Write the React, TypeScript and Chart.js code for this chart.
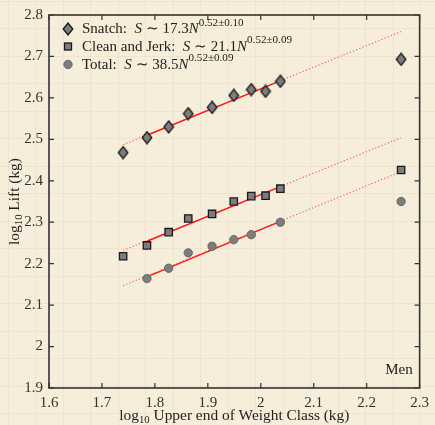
import React, { useEffect, useRef } from "react";
import { Chart, registerables } from "chart.js";

Chart.register(...registerables);

// ---- data ----
const weightClassLog = [1.74, 1.785, 1.826, 1.863, 1.908, 1.949, 1.982, 2.009, 2.037, 2.265];
const snatchLog = [2.468, 2.504, 2.53, 2.562, 2.577, 2.606, 2.62, 2.616, 2.64, 2.693];
const cleanJerkLog = [2.218, 2.244, 2.276, 2.309, 2.32, 2.35, 2.363, 2.364, 2.381, 2.426];
const totalLog = [null, 2.164, 2.189, 2.226, 2.242, 2.258, 2.27, null, 2.3, 2.35];

const fitXFull = [1.74, 2.265];
const fitXSolid = [1.785, 2.037];
const snatchFitFull = [2.487, 2.76];
const snatchFitSolid = [2.51, 2.641];
const cjFitFull = [2.232, 2.504];
const cjFitSolid = [2.254, 2.386];
const totalFitFull = [2.147, 2.422];
const totalFitSolid = [2.168, 2.302];

const xTicks = [1.6, 1.7, 1.8, 1.9, 2.0, 2.1, 2.2, 2.3];
const yTicks = [1.9, 2.0, 2.1, 2.2, 2.3, 2.4, 2.5, 2.6, 2.7, 2.8];

const legendLabels = [
  { name: "Snatch:", coef: "17.3", exp: "0.52±0.10" },
  { name: "Clean and Jerk:", coef: "21.1", exp: "0.52±0.09" },
  { name: "Total:", coef: "38.5", exp: "0.52±0.09" },
];
const panelLabel = "Men";

const FONT = "'Liberation Serif', 'Times New Roman', serif";
const MARKER_FILL = "#7d7d7d";

function pts(xs: number[], ys: (number | null)[]) {
  const out: { x: number; y: number }[] = [];
  xs.forEach((x, i) => {
    const y = ys[i];
    if (y !== null && y !== undefined) out.push({ x, y });
  });
  return out;
}

function makeDiamond(): HTMLCanvasElement {
  const c = document.createElement("canvas");
  c.width = 12;
  c.height = 14;
  const g = c.getContext("2d")!;
  g.beginPath();
  g.moveTo(6, 1);
  g.lineTo(10.8, 7);
  g.lineTo(6, 13);
  g.lineTo(1.2, 7);
  g.closePath();
  g.fillStyle = MARKER_FILL;
  g.fill();
  g.lineWidth = 1.3;
  g.strokeStyle = "#1a1a1a";
  g.stroke();
  return c;
}

type Part = { t: string; italic?: boolean; sup?: boolean };

function drawRich(ctx: CanvasRenderingContext2D, x: number, y: number, parts: Part[], size: number) {
  let cx = x;
  for (const p of parts) {
    const s = p.sup ? size * 0.74 : size;
    ctx.font = `${p.italic ? "italic " : ""}${s}px ${FONT}`;
    const dy = p.sup ? -size * 0.45 : 0;
    ctx.fillText(p.t, cx, y + dy);
    cx += ctx.measureText(p.t).width;
  }
  return cx;
}

export default function App() {
  const ref = useRef<HTMLCanvasElement | null>(null);

  useEffect(() => {
    if (!ref.current) return;
    const diamond = makeDiamond();

    const decor = {
      id: "decor",
      beforeDraw(chart: any) {
        const ctx = chart.ctx as CanvasRenderingContext2D;
        const W = chart.width;
        const H = chart.height;
        ctx.save();
        ctx.fillStyle = "#f7eddb";
        ctx.fillRect(0, 0, W, H);
        // faint paper grid
        ctx.strokeStyle = "rgba(190,170,135,0.13)";
        ctx.lineWidth = 1;
        for (let gx = 7.5; gx < W; gx += 27.5) {
          ctx.beginPath();
          ctx.moveTo(Math.round(gx) + 0.5, 0);
          ctx.lineTo(Math.round(gx) + 0.5, H);
          ctx.stroke();
        }
        for (let gy = 0.5; gy < H; gy += 27.5) {
          ctx.beginPath();
          ctx.moveTo(0, Math.round(gy) + 0.5);
          ctx.lineTo(W, Math.round(gy) + 0.5);
          ctx.stroke();
        }
        ctx.restore();
      },
      afterDraw(chart: any) {
        const ctx = chart.ctx as CanvasRenderingContext2D;
        const a = chart.chartArea;
        const xs = chart.scales.x;
        const ys = chart.scales.y;
        ctx.save();
        // frame
        ctx.strokeStyle = "#333";
        ctx.lineWidth = 1.6;
        ctx.strokeRect(a.left, a.top, a.right - a.left, a.bottom - a.top);
        // inward ticks
        ctx.lineWidth = 1.2;
        const tl = 5;
        for (const v of xTicks) {
          const px = xs.getPixelForValue(v);
          ctx.beginPath();
          ctx.moveTo(px, a.bottom);
          ctx.lineTo(px, a.bottom - tl);
          ctx.moveTo(px, a.top);
          ctx.lineTo(px, a.top + tl);
          ctx.stroke();
        }
        for (const v of yTicks) {
          const py = ys.getPixelForValue(v);
          ctx.beginPath();
          ctx.moveTo(a.left, py);
          ctx.lineTo(a.left + tl, py);
          ctx.moveTo(a.right, py);
          ctx.lineTo(a.right - tl, py);
          ctx.stroke();
        }

        ctx.fillStyle = "#222";
        ctx.textBaseline = "middle";
        ctx.textAlign = "left";

        // legend
        const lx = a.left + 19;
        const rowY = [a.top + 14, a.top + 31.5, a.top + 49.5];
        legendLabels.forEach((l, i) => {
          const yy = rowY[i];
          if (i === 0) {
            ctx.drawImage(diamond, lx - 6, yy - 7);
          } else if (i === 1) {
            ctx.fillStyle = MARKER_FILL;
            ctx.fillRect(lx - 3.5, yy - 3.5, 7, 7);
            ctx.strokeStyle = "#1a1a1a";
            ctx.lineWidth = 1.3;
            ctx.strokeRect(lx - 3.5, yy - 3.5, 7, 7);
          } else {
            ctx.beginPath();
            ctx.arc(lx, yy, 4.2, 0, Math.PI * 2);
            ctx.fillStyle = MARKER_FILL;
            ctx.fill();
            ctx.strokeStyle = "#5a5a5a";
            ctx.lineWidth = 0.8;
            ctx.stroke();
          }
          ctx.fillStyle = "#222";
          drawRich(
            ctx,
            lx + 14,
            yy + 0.5,
            [
              { t: l.name + "  " },
              { t: "S", italic: true },
              { t: " ∼ " + l.coef },
              { t: "N", italic: true },
              { t: l.exp, sup: true },
            ],
            15
          );
        });

        // panel label
        ctx.font = `15px ${FONT}`;
        ctx.textAlign = "center";
        ctx.fillText(panelLabel, xs.getPixelForValue(2.261), ys.getPixelForValue(1.944));

        // x title
        ctx.textAlign = "left";
        const size = 15.4;
        const rest = " Upper end of Weight Class (kg)";
        ctx.font = `${size}px ${FONT}`;
        const w1 = ctx.measureText("log").width;
        const w3 = ctx.measureText(rest).width;
        ctx.font = `${size * 0.7}px ${FONT}`;
        const w2 = ctx.measureText("10").width;
        const totalW = w1 + w2 + w3;
        let sx = (a.left + a.right) / 2 - totalW / 2;
        const ty = chart.height - 9;
        ctx.font = `${size}px ${FONT}`;
        ctx.fillText("log", sx, ty);
        sx += w1;
        ctx.font = `${size * 0.7}px ${FONT}`;
        ctx.fillText("10", sx, ty + 4);
        sx += w2;
        ctx.font = `${size}px ${FONT}`;
        ctx.fillText(rest, sx, ty);

        // y title (rotated)
        ctx.save();
        ctx.translate(15, (a.top + a.bottom) / 2);
        ctx.rotate(-Math.PI / 2);
        ctx.font = `${size}px ${FONT}`;
        const yw1 = ctx.measureText("log").width;
        const yw3 = ctx.measureText(" Lift (kg)").width;
        ctx.font = `${size * 0.7}px ${FONT}`;
        const yw2 = ctx.measureText("10").width;
        let ry = -(yw1 + yw2 + yw3) / 2;
        ctx.font = `${size}px ${FONT}`;
        ctx.fillText("log", ry, 0);
        ry += yw1;
        ctx.font = `${size * 0.7}px ${FONT}`;
        ctx.fillText("10", ry, 4);
        ry += yw2;
        ctx.font = `${size}px ${FONT}`;
        ctx.fillText(" Lift (kg)", ry, 0);
        ctx.restore();

        ctx.restore();
      },
    };

    const solid = (data: any[]) => ({
      type: "line" as const,
      data,
      borderColor: "#ff1a1a",
      borderWidth: 1.5,
      pointRadius: 0,
      showLine: true,
      fill: false,
    });
    const dotted = (data: any[]) => ({
      type: "line" as const,
      data,
      borderColor: "rgba(255,60,60,0.85)",
      borderWidth: 1.1,
      borderDash: [1.2, 2.2],
      pointRadius: 0,
      showLine: true,
      fill: false,
    });

    const chart = new Chart(ref.current, {
      type: "scatter",
      data: {
        datasets: [
          {
            label: "Snatch",
            data: pts(weightClassLog, snatchLog),
            pointStyle: diamond as any,
            pointRadius: 6,
          },
          {
            label: "Clean and Jerk",
            data: pts(weightClassLog, cleanJerkLog),
            pointStyle: "rect",
            pointRadius: 5.2,
            backgroundColor: MARKER_FILL,
            borderColor: "#1a1a1a",
            borderWidth: 1.3,
          },
          {
            label: "Total",
            data: pts(weightClassLog, totalLog),
            pointStyle: "circle",
            pointRadius: 4.2,
            backgroundColor: MARKER_FILL,
            borderColor: "#5a5a5a",
            borderWidth: 0.8,
          },
          solid(pts(fitXSolid, snatchFitSolid)),
          solid(pts(fitXSolid, cjFitSolid)),
          solid(pts(fitXSolid, totalFitSolid)),
          dotted(pts(fitXFull, snatchFitFull)),
          dotted(pts(fitXFull, cjFitFull)),
          dotted(pts(fitXFull, totalFitFull)),
        ] as any,
      },
      options: {
        animation: false,
        responsive: false,
        layout: { padding: { top: 13, right: 10, left: 0, bottom: 0 } },
        plugins: { legend: { display: false }, tooltip: { enabled: false } },
        scales: {
          x: {
            type: "linear",
            min: 1.6,
            max: 2.3,
            afterBuildTicks: (s: any) => {
              s.ticks = xTicks.map((v) => ({ value: v }));
            },
            afterFit: (s: any) => {
              s.height = 37;
            },
            grid: { display: false, drawTicks: false },
            border: { display: false },
            ticks: {
              padding: 6,
              color: "#333",
              font: { family: FONT, size: 15 },
              maxRotation: 0,
              autoSkip: false,
              callback: (v: any) => String(Number(Number(v).toFixed(1))),
            },
          },
          y: {
            type: "linear",
            min: 1.9,
            max: 2.8,
            afterBuildTicks: (s: any) => {
              s.ticks = yTicks.map((v) => ({ value: v }));
            },
            afterFit: (s: any) => {
              s.width = 49;
            },
            grid: { display: false, drawTicks: false },
            border: { display: false },
            ticks: {
              padding: 6,
              color: "#333",
              font: { family: FONT, size: 15 },
              autoSkip: false,
              callback: (v: any) => String(Number(Number(v).toFixed(1))),
            },
          },
        },
      },
      plugins: [decor],
    });

    return () => chart.destroy();
  }, []);

  return (
    <div style={{ position: "fixed", left: 0, top: 0, width: 435, height: 425 }}>
      <canvas ref={ref} width={435} height={425} style={{ display: "block", width: 435, height: 425 }} />
    </div>
  );
}
